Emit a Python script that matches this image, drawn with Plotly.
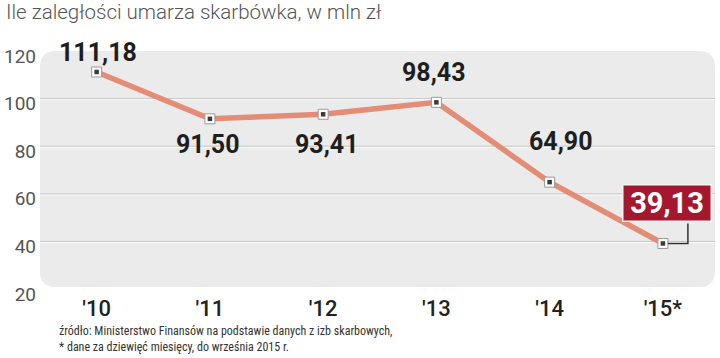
import plotly.graph_objects as go

# ---- data ----
categories = ["'10", "'11", "'12", "'13", "'14", "'15*"]
values = [111.18, 91.50, 93.41, 98.43, 64.90, 39.13]
value_labels = ["111,18", "91,50", "93,41", "98,43", "64,90", "39,13"]
y_ticks = [20, 40, 60, 80, 100, 120]
grid_values = [40, 60, 80, 100]

title_text = "Ile zaległości umarza skarbówka, w mln zł"
footer_1 = "źródło: Ministerstwo Finansów na podstawie danych z izb skarbowych,"
footer_2 = "* dane za dziewięć miesięcy, do września 2015 r."

# label offsets (px) relative to each point
label_dx = [1, -2, 4, -2, 11, 4]
label_dy = [19, -26, -30, 30, 41, 40]

xs = list(range(len(categories)))

fig = go.Figure()

fig.add_trace(go.Scatter(x=xs, y=values, mode="lines",
                         line=dict(color="#E48D76", width=5.5),
                         hoverinfo="skip", showlegend=False))
fig.add_trace(go.Scatter(x=xs, y=values, mode="markers",
                         marker=dict(symbol="square", size=10, color="#ffffff",
                                     line=dict(color="#9a9a9a", width=1)),
                         hoverinfo="skip", showlegend=False))
fig.add_trace(go.Scatter(x=xs, y=values, mode="markers",
                         marker=dict(symbol="square", size=4.5, color="#3a3a3a"),
                         hoverinfo="skip", showlegend=False))

shapes = []
rx, ry = 0.024, 0.068
b0 = 0.008
shapes.append(dict(
    type="path", xref="x domain", yref="y domain", layer="below",
    path=(f"M {rx},{b0} L {1-rx},{b0} Q 1,{b0} 1,{b0+ry} "
          f"L 1,{1-ry} Q 1,1 {1-rx},1 L {rx},1 Q 0,1 0,{1-ry} "
          f"L 0,{b0+ry} Q 0,{b0} {rx},{b0} Z"),
    fillcolor="#ebebeb", line=dict(width=0)))
for g in grid_values:
    shapes.append(dict(type="line", xref="x domain", yref="y", layer="below",
                       x0=0, x1=1, y0=g - 0.42, y1=g - 0.42,
                       line=dict(color="#ffffff", width=1)))
    shapes.append(dict(type="line", xref="x domain", yref="y", layer="below",
                       x0=0, x1=1, y0=g, y1=g,
                       line=dict(color="#c6c6c6", width=1)))
shapes.append(dict(type="path", xref="x", yref="y",
                   xsizemode="pixel", ysizemode="pixel",
                   xanchor=xs[-1], yanchor=values[-1],
                   path="M 5,0 L 25,0 L 25,20",
                   line=dict(color="#333333", width=1.5)))

annotations = []
for i, (x, v, t) in enumerate(zip(xs, values, value_labels)):
    if i == len(xs) - 1:
        annotations.append(dict(
            x=x, y=v, xref="x", yref="y", text=t, showarrow=False,
            xshift=label_dx[i], yshift=label_dy[i],
            font=dict(family="Roboto", size=29, color="#ffffff", weight=700),
            bgcolor="#A3182E", bordercolor="#f4f4f4", borderwidth=1.5,
            borderpad=1, width=85, height=33))
    else:
        annotations.append(dict(
            x=x, y=v, xref="x", yref="y", text=t, showarrow=False,
            xshift=label_dx[i], yshift=label_dy[i],
            font=dict(family="Roboto", size=25, color="#1e1e1e", weight=700)))

annotations.append(dict(x=-0.0533, y=1.163, xref="paper", yref="paper",
                        xanchor="left", yanchor="middle", showarrow=False,
                        text=title_text,
                        font=dict(family="Roboto", size=20.5, color="#555555", weight=300)))
footer_font = dict(family="Roboto Condensed, Liberation Sans Narrow, Arial Narrow, DejaVu Sans Condensed",
                   size=12, color="#333333")
annotations.append(dict(x=0.025, y=-0.176, xref="paper", yref="paper",
                        xanchor="left", yanchor="middle", showarrow=False,
                        text=footer_1, font=footer_font))
annotations.append(dict(x=0.025, y=-0.243, xref="paper", yref="paper",
                        xanchor="left", yanchor="middle", showarrow=False,
                        text=footer_2, font=footer_font))

fig.update_layout(
    width=720, height=358,
    margin=dict(l=40, r=5, t=51, b=69, autoexpand=False),
    paper_bgcolor="#ffffff", plot_bgcolor="rgba(0,0,0,0)",
    shapes=shapes, annotations=annotations,
    xaxis=dict(range=[-0.5, 5.46], tickvals=xs, ticktext=categories,
               showgrid=False, zeroline=False, showline=False, ticks="",
               automargin=False, ticklabelstandoff=4,
               tickfont=dict(family="Roboto", size=22, color="#222222", weight=500)),
    yaxis=dict(range=[20, 120], tickvals=y_ticks, showgrid=False,
               zeroline=False, showline=False, ticks="", automargin=False,
               ticklabelstandoff=3, ticklabelshift=5,
               tickfont=dict(family="Roboto", size=19, color="#555555")),
)

fig.write_html("out.html",
               config={"displayModeBar": False},
               post_script="document.body.style.margin='0';document.body.style.padding='0';")
